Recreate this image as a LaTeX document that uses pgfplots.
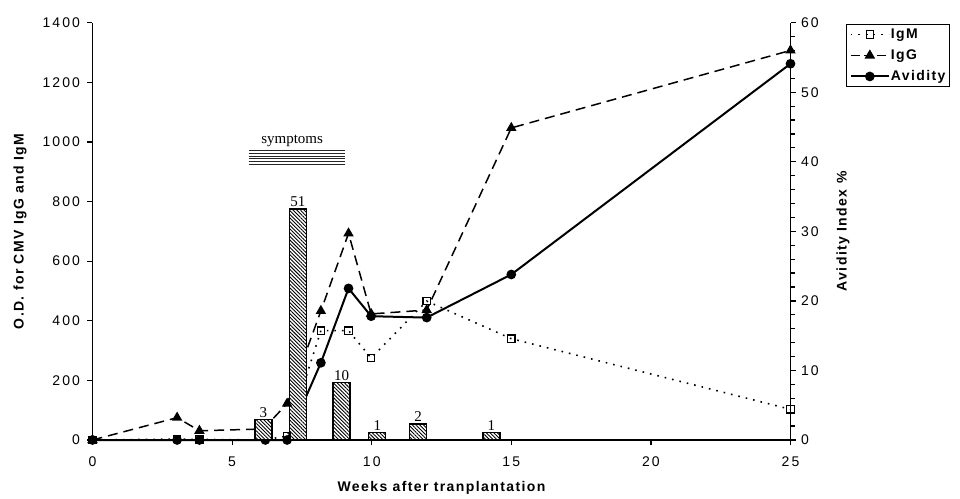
\documentclass[border=0pt]{standalone}
\usepackage{fontspec}
\setmainfont{Liberation Sans}
\newfontfamily\tickfamily[LetterSpace=15]{Liberation Sans}
\newfontfamily\labfamily[LetterSpace=10]{Liberation Sans}
\newfontfamily\serifam{Liberation Serif}
\newcommand\tickfont{\tickfamily\fontsize{14}{16}\selectfont}
\newcommand\labfont{\labfamily\bfseries\fontsize{14}{16}\selectfont}
\newcommand\sfont{\serifam\fontsize{15}{17}\selectfont}
\usepackage{pgfplots}
\pgfplotsset{compat=1.18}
\usetikzlibrary{patterns,patterns.meta}
\tikzset{
  igmstyle/.style={black, line width=1.6pt, dash pattern=on 1.6pt off 6pt, mark=square, mark size=3.7pt, mark options={solid, line width=1.3pt, fill=white}},
  iggstyle/.style={black, line width=1.5pt, dash pattern=on 10pt off 6pt, mark=triangle*, mark size=4.6pt, mark options={solid}},
  avstyle/.style={black, line width=2pt, mark=*, mark size=3.8pt, mark options={solid}},
}
\pgfplotsset{
  common/.style={
    scale only axis, width=698pt, height=417.3pt,
    xmin=0, xmax=25, clip=false,
    axis line style={-, line width=1.4pt},
    tick style={black, line width=1.2pt},
    tick align=outside,
    major tick length=5pt, minor tick length=4pt,
    ticklabel style={font=\tickfont},
    /pgf/number format/assume math mode=true,
    /pgf/number format/1000 sep={},
    scaled ticks=false,
    label style={font=\labfont},
  }
}
\begin{document}
\begin{tikzpicture}
\path[use as bounding box] (-92.5pt,-58pt) rectangle (867.5pt,440pt);
% right axis: avidity
\begin{axis}[common,
  axis y line*=right, axis x line=none,
  ymin=0, ymax=60, ytick={0,10,...,60}, minor y tick num=4,
  yticklabel style={xshift=2pt},
  ylabel={Avidity Index \%},
  ylabel style={at={(axis description cs:1.0752,0.5)}, anchor=center, rotate=0},
]
\addplot[avstyle] coordinates {
(0,0) (3.03,0) (3.83,0) (6.19,0) (6.97,0) (8.18,11.1) (9.17,21.8) (9.98,17.8) (11.97,17.6) (15,23.8) (25,54.1)
};
\end{axis}
% left axis: O.D.
\begin{axis}[common,
  axis y line*=left, axis x line*=bottom,
  ymin=0, ymax=1400, ytick={0,200,...,1400},
  xtick={0,5,...,25},
  xticklabel style={yshift=-8pt},
  yticklabel style={xshift=-4pt},
  xlabel={Weeks after tranplantation},
  xlabel style={at={(axis description cs:0.5,-0.115)}, anchor=center},
  ylabel={O.D. for CMV IgG and IgM},
  ylabel style={at={(axis description cs:-0.1039,0.5)}, anchor=center},
  legend style={at={(axis description cs:1.080,0.997)}, anchor=north west,
    draw=black, line width=1pt, font=\labfont, inner sep=3pt, row sep=7pt,
    nodes={inner sep=1pt, text height=10pt, text depth=2pt}},
  legend cell align=left,
  legend image code/.code={\draw[mark repeat=2,mark phase=2,#1] plot coordinates {(0pt,0pt) (19pt,0pt) (38pt,0pt)};},
]
\addplot[igmstyle, mark indices={1,2,3,5,6,7,8,9,10,11}, forget plot] coordinates {
(0,0) (3.03,3) (3.83,2) (6.12,0) (6.97,13) (8.18,367) (9.17,367) (9.98,275) (11.97,466) (15,340) (25,103)
};
\addplot[iggstyle, mark indices={1,2,3,5,6,7,8,9,10,11}, forget plot] coordinates {
(0,0) (3.03,75) (3.83,31) (6.12,37) (6.97,122) (8.18,433) (9.17,693) (9.98,423) (11.97,436) (15,1047) (25,1307)
};
\addplot[ybar, bar width=17pt, draw=black, line width=1.3pt, fill=white,
  postaction={pattern={Lines[angle=-45, distance=2.6pt, line width=0.9pt]}}, forget plot,
  nodes near coords, point meta=explicit symbolic,
  every node near coord/.append style={font=\sfont, inner sep=1.5pt, anchor=south}]
  table[x=x, y=y, meta=lab] {
x y lab
6.12 69 3
7.36 775 51
8.92 192 10
10.2 26 1
11.66 54 2
14.29 24 1
};
\addlegendimage{igmstyle}
\addlegendentry{IgM}
\addlegendimage{iggstyle, dash pattern=on 9pt off 4pt}
\addlegendentry{IgG}
\addlegendimage{avstyle}
\addlegendentry{Avidity}
\node[font=\sfont] at (axis cs:7.15,1003) {symptoms};
\pgfplotsinvokeforeach{924,933.5,943,952.5,962,971}{
  \draw[line width=0.85pt, black!85] (axis cs:5.59,#1) -- (axis cs:9.04,#1);
}
\end{axis}
\end{tikzpicture}
\end{document}
